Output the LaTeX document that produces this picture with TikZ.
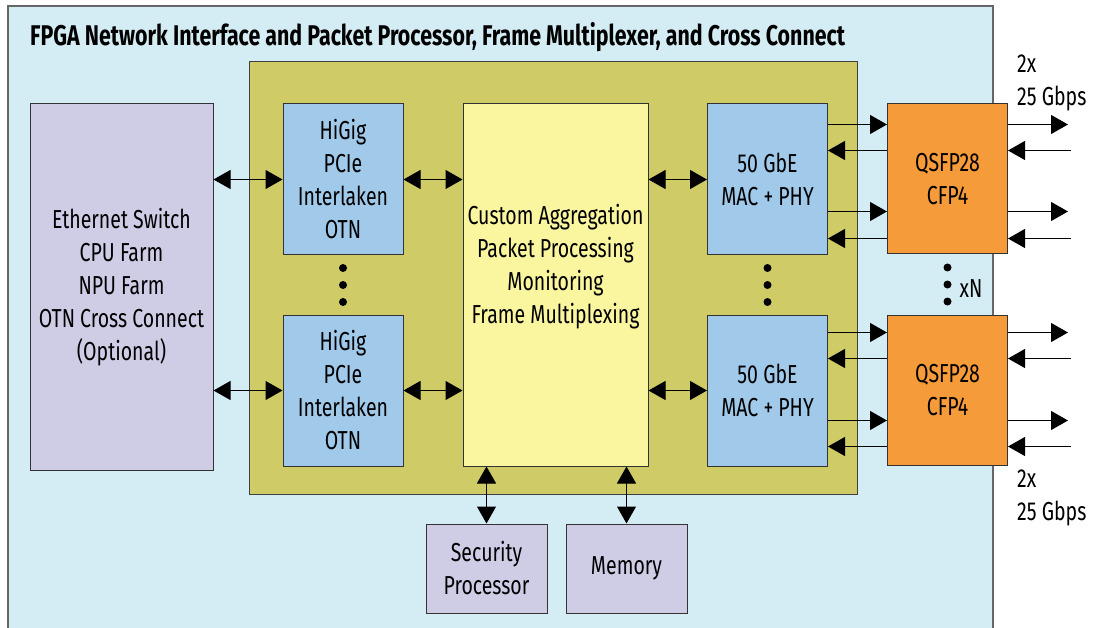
\documentclass[tikz,border=0pt]{standalone}
\usepackage{fontspec}
\setmainfont{Fira Sans}[FakeStretch=0.75]
\usepackage{xcolor}
\usetikzlibrary{arrows.meta,calc}
\definecolor{fpgafill}{HTML}{D4ECF3}
\definecolor{corefill}{HTML}{CFCB66}
\definecolor{hostfill}{HTML}{CFCCE6}
\definecolor{iffill}{HTML}{A0C9EA}
\definecolor{procfill}{HTML}{FAF59F}
\definecolor{optfill}{HTML}{F59B3A}
\tikzset{
	fpgaline/.style={draw=black!60,line width=2pt},%
	core/.style={draw=black!75,line width=1pt,fill=corefill,minimum width=608pt,minimum height=432pt},%
	block/.style={draw=black!80,line width=1pt,align=center,inner sep=0pt},%
	hostbox/.style={block,fill=hostfill,minimum width=183pt,minimum height=366pt},%
	ifbox/.style={block,fill=iffill,minimum width=120pt,minimum height=151pt},%
	procbox/.style={block,fill=procfill,minimum width=185pt,minimum height=362pt},%
	optbox/.style={block,fill=optfill,minimum width=120pt,minimum height=150pt},%
	smallbox/.style={block,fill=hostfill,minimum width=121pt,minimum height=89pt},%
	biarrow/.style={line width=1pt,{Triangle[length=17pt,width=19pt]}-{Triangle[length=17pt,width=19pt]}},%
	sig/.style={line width=1pt,-{Triangle[length=17pt,width=19pt]}},%
	sigin/.style={line width=1pt,{Triangle[length=17pt,width=19pt]}-},%
	rate/.style={align=left,anchor=west,inner sep=0pt},%
}
\def\dotgap{17}
\def\dotsize{4}

\begin{document}
\begin{tikzpicture}[x=1pt,y=-1pt,font=\fontsize{26}{33}\selectfont]
	\useasboundingbox (0,0) rectangle (1097,628);
	\fill[fpgafill] (8,640) -- (8,6) -- (993,6) -- (993,640);
	\draw[fpgaline] (8,640) -- (8,6) -- (993,6) -- (993,640);
	\node[anchor=base west,inner sep=0pt,font=\fontsize{28.5}{33}\selectfont\bfseries] (title) at (30,46) {FPGA Network Interface and Packet Processor, Frame Multiplexer, and Cross Connect};
	\node[core] (core) at (553,278) {};
	\node[hostbox] (host) at (121.5,287) {Ethernet Switch\\CPU Farm\\NPU Farm\\OTN Cross Connect\\(Optional)};
	\node[ifbox] (ifA) at (343,179.5) {HiGig\\PCIe\\Interlaken\\OTN};
	\node[ifbox] (ifB) at (343,390.5) {HiGig\\PCIe\\Interlaken\\OTN};
	\node[procbox] (proc) at (555.5,285) {};
	\node[align=center,inner sep=0pt] (proctext) at ([yshift=18pt]proc.center) {Custom Aggregation\\Packet Processing\\Monitoring\\Frame Multiplexing};
	\node[ifbox] (macA) at (767.5,179.5) {50 GbE\\MAC + PHY};
	\node[ifbox] (macB) at (767.5,390.5) {50 GbE\\MAC + PHY};
	\node[optbox] (qsfpA) at (947.5,179) {QSFP28\\CFP4};
	\node[optbox] (qsfpB) at (947.5,390) {QSFP28\\CFP4};
	\node[smallbox] (sec) at (486.5,568.5) {Security\\Processor};
	\node[smallbox] (mem) at (626.5,568.5) {Memory};
	\node[rate] (rateA) at (1017,83) {2x\\25 Gbps};
	\node[rate] (rateB) at (1017,498) {2x\\25 Gbps};
	% host side and processor links
	\draw[biarrow] (host.east |- ifA) -- (ifA.west);
	\draw[biarrow] (host.east |- ifB) -- (ifB.west);
	\draw[biarrow] (ifA.east) -- (proc.west |- ifA);
	\draw[biarrow] (ifB.east) -- (proc.west |- ifB);
	\draw[biarrow] (proc.east |- macA) -- (macA.west);
	\draw[biarrow] (proc.east |- macB) -- (macB.west);
	\draw[biarrow] (sec.north) -- (sec.north |- proc.south);
	\draw[biarrow] (mem.north) -- (mem.north |- proc.south);
	% lanes to the optics
	\foreach \n/\a/\b/\c/\d in {A/21/47/108/135,B/18/44/106/132}{
		\draw[sig] ([yshift=-\a pt]mac\n.north east) -- ([yshift=-\a pt]qsfp\n.north west);
		\draw[sigin] ([yshift=-\b pt]mac\n.north east) -- ([yshift=-\b pt]qsfp\n.north west);
		\draw[sig] ([yshift=-\c pt]mac\n.north east) -- ([yshift=-\c pt]qsfp\n.north west);
		\draw[sigin] ([yshift=-\d pt]mac\n.north east) -- ([yshift=-\d pt]qsfp\n.north west);
		\draw[sig] ([yshift=-\a pt]qsfp\n.north east) -- ++(60,0);
		\draw[sigin] ([yshift=-\b pt]qsfp\n.north east) -- ++(63,0);
		\draw[sig] ([yshift=-\c pt]qsfp\n.north east) -- ++(60,0);
		\draw[sigin] ([yshift=-\d pt]qsfp\n.north east) -- ++(63,0);
	}
	% repeated blocks
	\foreach \s in {-\dotgap,0,\dotgap}{
		\fill ($(ifA.south)!0.5!(ifB.north)+(0,\s)$) circle (\dotsize);
		\fill ($(macA.south)!0.5!(macB.north)+(0,\s)$) circle (\dotsize);
		\fill ($(qsfpA.south)!0.5!(qsfpB.north)+(0,\s)$) circle (\dotsize);
	}
	\node[inner sep=0pt] (count) at (971,289) {xN};
\end{tikzpicture}
\end{document}
